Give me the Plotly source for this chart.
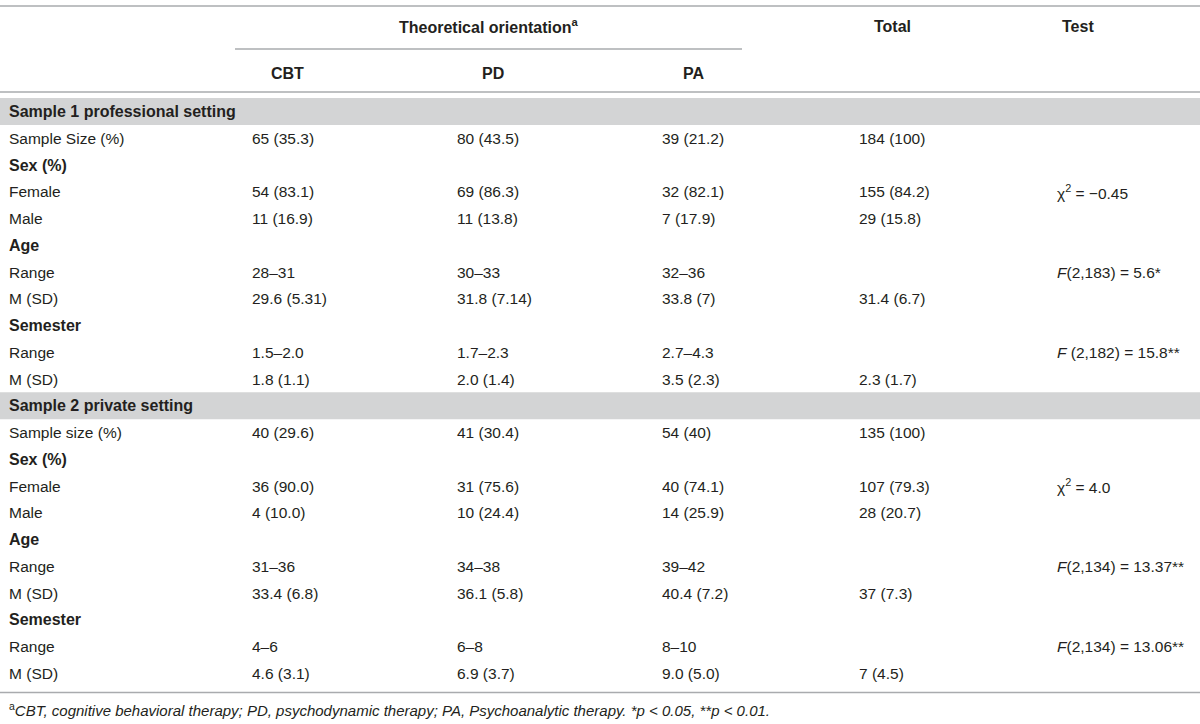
import plotly.graph_objects as go

# column headers
group_header = "Theoretical orientation<sup>a</sup>"
orientations = ["CBT", "PD", "PA"]
extra_headers = ["Total", "Test"]

# sample 1 professional setting
section_1 = "Sample 1 professional setting"
labels_1 = ["Sample Size (%)", "Sex (%)", "Female", "Male", "Age", "Range", "M (SD)",
            "Semester", "Range", "M (SD)"]
cbt_1 = ["65 (35.3)", "", "54 (83.1)", "11 (16.9)", "", "28–31", "29.6 (5.31)", "", "1.5–2.0", "1.8 (1.1)"]
pd_1 = ["80 (43.5)", "", "69 (86.3)", "11 (13.8)", "", "30–33", "31.8 (7.14)", "", "1.7–2.3", "2.0 (1.4)"]
pa_1 = ["39 (21.2)", "", "32 (82.1)", "7 (17.9)", "", "32–36", "33.8 (7)", "", "2.7–4.3", "3.5 (2.3)"]
total_1 = ["184 (100)", "", "155 (84.2)", "29 (15.8)", "", "", "31.4 (6.7)", "", "", "2.3 (1.7)"]
test_1 = ["", "", "χ<sup>2</sup> = −0.45", "", "", "<i>F</i>(2,183) = 5.6*", "", "",
          "<i>F</i> (2,182) = 15.8**", ""]

# sample 2 private setting
section_2 = "Sample 2 private setting"
labels_2 = ["Sample size (%)", "Sex (%)", "Female", "Male", "Age", "Range", "M (SD)",
            "Semester", "Range", "M (SD)"]
cbt_2 = ["40 (29.6)", "", "36 (90.0)", "4 (10.0)", "", "31–36", "33.4 (6.8)", "", "4–6", "4.6 (3.1)"]
pd_2 = ["41 (30.4)", "", "31 (75.6)", "10 (24.4)", "", "34–38", "36.1 (5.8)", "", "6–8", "6.9 (3.7)"]
pa_2 = ["54 (40)", "", "40 (74.1)", "14 (25.9)", "", "39–42", "40.4 (7.2)", "", "8–10", "9.0 (5.0)"]
total_2 = ["135 (100)", "", "107 (79.3)", "28 (20.7)", "", "", "37 (7.3)", "", "", "7 (4.5)"]
test_2 = ["", "", "χ<sup>2</sup> = 4.0", "", "", "<i>F</i>(2,134) = 13.37**", "", "",
          "<i>F</i>(2,134) = 13.06**", ""]

bold_rows = [1, 4, 7]  # Sex (%), Age, Semester

footnote = ("<sup>a</sup><i>CBT, cognitive behavioral therapy; PD, psychodynamic therapy; "
            "PA, Psychoanalytic therapy. *p < 0.05, **p < 0.01.</i>")

W, H = 1200, 724
TXT = "#231f20"
LINE = "#a9abae"
BAND = "#d3d4d5"
FONT = "Liberation Sans"
FS = 15.5
FS_BOLD = 16

col_left = [7, 250, 455, 660, 857, 1055]
head_center = [287, 493, 693, 892, 1078]

row0 = 111.5
row_h = 26.76

fig = go.Figure()

ann = []
shapes = []


def text(x, y, s, anchor="left", size=FS, bold=False):
    if bold:
        s = "<b>" + s + "</b>"
        size = FS_BOLD
    ann.append(dict(x=x, y=y, xref="x", yref="y", text=s, showarrow=False,
                    xanchor=anchor, yanchor="middle",
                    font=dict(family=FONT, size=size, color=TXT)))


def hline(x0, x1, y, w=1.5):
    shapes.append(dict(type="line", xref="x", yref="y", x0=x0, x1=x1, y0=y, y1=y,
                       line=dict(color=LINE, width=w)))


# header
hline(0, W, 6)
text((235 + 742) / 2, 26, group_header, anchor="center", bold=True)
text(head_center[3], 26, extra_headers[0], anchor="center", bold=True)
text(head_center[4], 26, extra_headers[1], anchor="center", bold=True)
hline(235, 742, 49)
for i, o in enumerate(orientations):
    text(head_center[i], 73, o, anchor="center", bold=True)
hline(0, W, 92)

r = 0
for section, labels, cols in [
    (section_1, labels_1, [cbt_1, pd_1, pa_1, total_1, test_1]),
    (section_2, labels_2, [cbt_2, pd_2, pa_2, total_2, test_2]),
]:
    y = row0 + r * row_h
    shapes.append(dict(type="rect", xref="x", yref="y", x0=0, x1=W,
                       y0=y - 13.5, y1=y + 13.5, fillcolor=BAND, line=dict(width=0),
                       layer="below"))
    text(col_left[0], y, section, bold=True)
    r += 1
    for i, lab in enumerate(labels):
        y = row0 + r * row_h
        text(col_left[0], y, lab, bold=i in bold_rows)
        for c, col in enumerate(cols):
            if col[i]:
                text(col_left[c + 1], y, col[i])
        r += 1

y_last = row0 + (r - 1) * row_h
hline(0, W, y_last + 19)
text(col_left[0], y_last + 36, footnote, size=15)

fig.update_layout(
    width=W, height=H,
    margin=dict(l=0, r=0, t=0, b=0),
    paper_bgcolor="white", plot_bgcolor="white",
    xaxis=dict(range=[0, W], visible=False, fixedrange=True),
    yaxis=dict(range=[H, 0], visible=False, fixedrange=True),
    annotations=ann, shapes=shapes,
    showlegend=False,
)

# drop the default 8px body margin so the figure sits at the page corner
fig.write_html("out.html", config={"displayModeBar": False},
               post_script="document.body.style.margin='0';")
